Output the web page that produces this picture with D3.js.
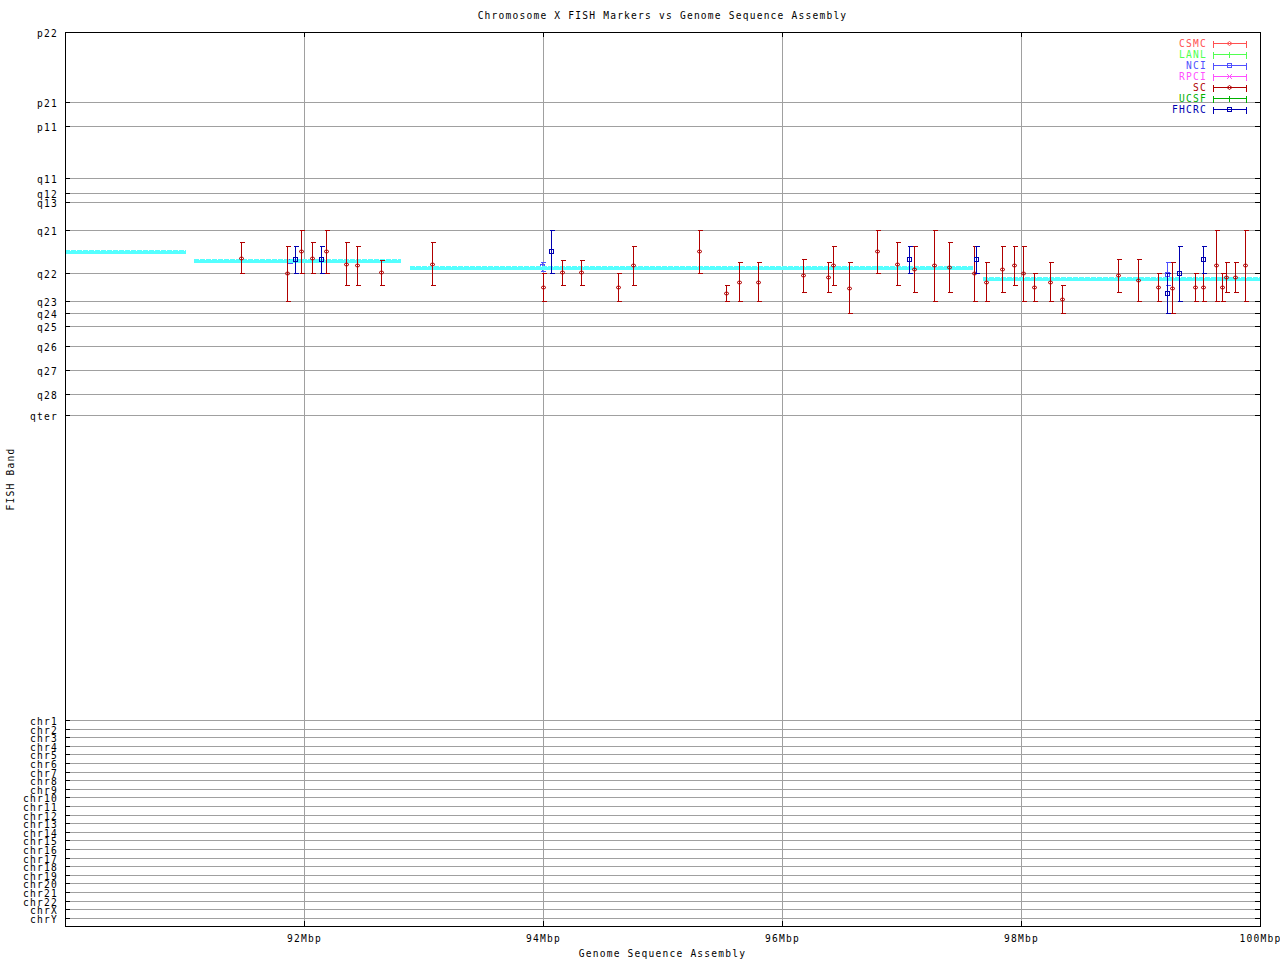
<!DOCTYPE html>
<html><head><meta charset="utf-8">
<script src="https://cdn.jsdelivr.net/npm/d3@7"></script>
<style>
body{margin:0;background:#fff}
text{font-family:"DejaVu Sans Mono",monospace;font-size:9.6px;letter-spacing:1.2px}
</style>
</head><body>
<svg id="c" width="1280" height="960"></svg>
<script>
const title = "Chromosome X FISH Markers vs Genome Sequence Assembly";
const xLabel = "Genome Sequence Assembly";
const yLabel = "FISH Band";
const xDomain = [90, 100];
const xTickValues = [92, 94, 96, 98, 100];
const xTickLabels = ["92Mbp", "94Mbp", "96Mbp", "98Mbp", "100Mbp"];
const bandLabels = ["p22","p21","p11","q11","q12","q13","q21","q22","q23","q24","q25","q26","q27","q28","qter"];
const bandValues = [0, 7.86, 10.51, 16.36, 18.04, 19.05, 22.18, 26.99, 30.12, 31.47, 32.89, 35.16, 37.84, 40.53, 42.84];
const chrLabels = ["chr1","chr2","chr3","chr4","chr5","chr6","chr7","chr8","chr9","chr10","chr11","chr12","chr13","chr14","chr15","chr16","chr17","chr18","chr19","chr20","chr21","chr22","chrX","chrY"];
const chrValues = [76.96,77.92,78.88,79.84,80.81,81.77,82.73,83.69,84.65,85.62,86.58,87.54,88.50,89.46,90.43,91.39,92.35,93.31,94.27,95.24,96.20,97.16,98.12,99.08];
const seriesNames = ["CSMC","LANL","NCI","RPCI","SC","UCSF","FHCRC"];

// Assembly segments (cyan)
const asmStart = [89.9, 91.079, 92.886, 97.679];
const asmEnd   = [91.01, 92.808, 97.595, 100.0];
const asmBand  = [24.61, 25.58, 26.36, 27.60];

// SC markers
const scPos  = [91.475,91.854,91.974,92.069,92.181,92.348,92.445,92.646,93.072,94.001,94.160,94.319,94.628,94.754,95.309,95.532,95.640,95.799,96.176,96.385,96.427,96.560,96.795,96.962,97.104,97.271,97.397,97.606,97.707,97.840,97.941,98.019,98.108,98.245,98.342,98.811,98.978,99.148,99.260,99.458,99.522,99.630,99.681,99.714,99.789,99.876];
const scBand = [25.31,26.99,24.53,25.31,24.53,25.98,26.10,26.88,25.98,28.56,26.88,26.88,28.56,26.10,24.53,29.23,28.00,28.00,27.21,27.44,26.10,28.67,24.53,25.98,26.54,26.10,26.32,26.99,28.00,26.54,26.10,26.99,28.56,28.00,29.90,27.21,27.77,28.56,28.67,28.56,28.56,26.10,28.56,27.44,27.44,26.10];
const scFrom = [23.52,23.97,22.18,23.52,22.18,23.52,23.97,25.47,23.52,26.99,25.47,25.47,26.99,23.97,22.18,28.33,25.76,25.76,25.43,25.76,23.97,25.76,22.18,23.52,23.97,22.18,23.52,23.97,25.76,23.97,23.97,23.97,26.99,25.76,28.33,25.43,25.43,26.99,25.76,26.99,26.99,22.18,26.99,25.76,25.76,22.18];
const scTo   = [26.99,30.12,26.99,26.99,26.99,28.33,28.33,28.33,28.33,30.12,28.33,28.33,30.12,28.33,26.99,30.12,30.12,30.12,29.12,29.12,28.33,31.47,26.99,28.33,29.12,30.12,29.12,30.12,30.12,29.12,28.33,30.12,30.12,30.12,31.47,29.12,30.12,30.12,31.47,30.12,30.12,30.12,30.12,29.12,29.12,30.12];

// FHCRC markers
const fhPos  = [91.926,92.144,94.068,97.062,97.623,99.221,99.321,99.522];
const fhBand = [25.43,25.43,24.53,25.43,25.43,29.23,26.99,25.43];
const fhFrom = [23.97,23.97,22.18,23.97,23.97,26.99,23.97,23.97];
const fhTo   = [26.99,26.99,26.99,26.99,26.99,31.47,30.12,26.99];

// NCI markers
const nciPos  = [91.871,93.993,99.221];
const nciBand = [25.66,26.23,27.10];
const nciFrom = [25.45,25.76,25.76];
const nciTo   = [25.87,26.70,28.33];

const colors = {CSMC:"#ff5050",LANL:"#50ff50",NCI:"#5050ff",RPCI:"#ff50ff",SC:"#b00000",UCSF:"#00b000",FHCRC:"#0000b0"};
const shapes = {CSMC:"diamond",LANL:"plus",NCI:"square",RPCI:"cross",SC:"diamond",UCSF:"plus",FHCRC:"square"};
const asmColor = "#55ffff";
const FONT = "DejaVu Sans Mono, monospace";

const L = 65, R = 1260, T = 32, B = 926;
const svg = d3.select("#c");
const x = d3.scaleLinear().domain(xDomain).rangeRound([L, R]);
const y = d3.scaleLinear().domain([0, 100]).rangeRound([T, B]);
const px = v => Math.round(x(v)) + 0.5;
const py = v => Math.round(y(v)) + 0.5;

const allY = bandValues.concat(chrValues);
const allYLabels = bandLabels.concat(chrLabels);

function styleText(sel) {
  sel.attr("fill", "#000").style("font-family", FONT).style("font-size", "9.6px").style("letter-spacing", "1.2px");
}

// grid
const gridY = svg.append("g").attr("transform", `translate(${L},0)`)
  .call(d3.axisLeft(y).tickValues(allY).tickSize(-(R - L)).tickFormat(""));
gridY.select(".domain").remove();
gridY.selectAll("line").attr("stroke", "#a0a0a0").attr("shape-rendering", "crispEdges");
const gridX = svg.append("g").attr("transform", `translate(0,${B})`)
  .call(d3.axisBottom(x).tickValues(xTickValues.filter(v => v < xDomain[1])).tickSize(-(B - T)).tickFormat(""));
gridX.select(".domain").remove();
gridX.selectAll("line").attr("stroke", "#a0a0a0").attr("shape-rendering", "crispEdges");

// axes (inward ticks)
const ax = svg.append("g").attr("transform", `translate(${L},0)`)
  .call(d3.axisLeft(y).tickValues(allY).tickSize(-5).tickPadding(7).tickFormat((d, i) => allYLabels[i]));
ax.select(".domain").remove();
ax.selectAll("line").attr("stroke", "#000").attr("shape-rendering", "crispEdges");
styleText(ax.selectAll("text").attr("dy", "0.42em"));
const axR = svg.append("g").attr("transform", `translate(${R},0)`)
  .call(d3.axisRight(y).tickValues(allY).tickSize(-5).tickFormat(""));
axR.select(".domain").remove();
axR.selectAll("line").attr("stroke", "#000").attr("shape-rendering", "crispEdges");
const axB = svg.append("g").attr("transform", `translate(0,${B})`)
  .call(d3.axisBottom(x).tickValues(xTickValues).tickSize(-5).tickPadding(9).tickFormat((d, i) => xTickLabels[i]));
axB.select(".domain").remove();
axB.selectAll("line").attr("stroke", "#000").attr("shape-rendering", "crispEdges");
styleText(axB.selectAll("text"));
const axT = svg.append("g").attr("transform", `translate(0,${T})`)
  .call(d3.axisTop(x).tickValues(xTickValues).tickSize(-5).tickFormat(""));
axT.select(".domain").remove();
axT.selectAll("line").attr("stroke", "#000").attr("shape-rendering", "crispEdges");

// frame
svg.append("rect").attr("x", L + 0.5).attr("y", T + 0.5).attr("width", R - L).attr("height", B - T)
  .attr("fill", "none").attr("stroke", "#000").attr("shape-rendering", "crispEdges");

// clip for data
svg.append("clipPath").attr("id", "clip").append("rect").attr("x", L + 1).attr("y", T + 1).attr("width", R - L - 1).attr("height", B - T - 1);
const plot = svg.append("g").attr("clip-path", "url(#clip)");

function marker(g, shape, cx, cy, color) {
  if (shape === "diamond") {
    g.append("path").attr("d", `M${cx-2.5},${cy}L${cx},${cy-2}L${cx+2.5},${cy}L${cx},${cy+2}Z`)
      .attr("fill", "none").attr("stroke", color);
  } else if (shape === "square") {
    g.append("rect").attr("x", cx - 2).attr("y", cy - 2).attr("width", 4).attr("height", 4)
      .attr("fill", "none").attr("stroke", color).attr("shape-rendering", "crispEdges");
  } else if (shape === "plus") {
    g.append("path").attr("d", `M${cx-3},${cy}H${cx+3}M${cx},${cy-3}V${cy+3}`).attr("stroke", color).attr("shape-rendering", "crispEdges");
  } else if (shape === "cross") {
    g.append("path").attr("d", `M${cx-2.5},${cy-2.5}L${cx+2.5},${cy+2.5}M${cx-2.5},${cy+2.5}L${cx+2.5},${cy-2.5}`).attr("stroke", color);
  }
}

function drawSeries(name, pos, band, from, to) {
  const color = colors[name];
  const g = plot.append("g").attr("class", "series-" + name);
  pos.forEach((p, i) => {
    const cx = px(p), y1 = py(from[i]), y2 = py(to[i]), cy = py(band[i]);
    g.append("path")
      .attr("d", `M${cx},${y1}V${y2}M${cx-2},${y1}H${cx+3}M${cx-2},${y2}H${cx+3}`)
      .attr("stroke", color).attr("fill", "none").attr("shape-rendering", "crispEdges");
    marker(g, shapes[name], cx, cy, color);
  });
}

// NCI drawn behind the assembly line
drawSeries("NCI", nciPos, nciBand, nciFrom, nciTo);

// assembly segments
const asm = plot.append("g");
asmStart.forEach((s, i) => {
  const x1 = Math.round(x(s)), x2 = Math.round(x(asmEnd[i])), yc = Math.round(y(asmBand[i]));
  asm.append("rect").attr("x", x1).attr("y", yc - 1).attr("width", x2 - x1).attr("height", 3)
    .attr("fill", asmColor).attr("shape-rendering", "crispEdges");
  asm.append("line").attr("x1", x1).attr("x2", x2).attr("y1", yc - 1.5).attr("y2", yc - 1.5)
    .attr("stroke", asmColor).attr("stroke-dasharray", "5,1").attr("shape-rendering", "crispEdges");
});

drawSeries("SC", scPos, scBand, scFrom, scTo);
drawSeries("FHCRC", fhPos, fhBand, fhFrom, fhTo);

// legend
const leg = svg.append("g");
seriesNames.forEach((n, i) => {
  const ly = 43 + i * 11 + 0.5;
  const c = colors[n];
  leg.append("text").attr("x", 1207).attr("y", ly).attr("dy", "0.4em").attr("text-anchor", "end")
    .attr("fill", c).text(n);
  leg.append("path").attr("d", `M1213.5,${ly}H1246.5M1213.5,${ly-3}V${ly+4}M1246.5,${ly-3}V${ly+4}`)
    .attr("stroke", c).attr("fill", "none").attr("shape-rendering", "crispEdges");
  marker(leg, shapes[n], 1229.5, ly, c);
});

// titles
svg.append("text").attr("x", (L + R) / 2).attr("y", 19).attr("text-anchor", "middle").attr("fill", "#000").text(title);
svg.append("text").attr("x", (L + R) / 2).attr("y", 957).attr("text-anchor", "middle").attr("fill", "#000").text(xLabel);
svg.append("text").attr("transform", `translate(14,${(T + B) / 2}) rotate(-90)`).attr("text-anchor", "middle").attr("fill", "#000").text(yLabel);
</script>
</body></html>
